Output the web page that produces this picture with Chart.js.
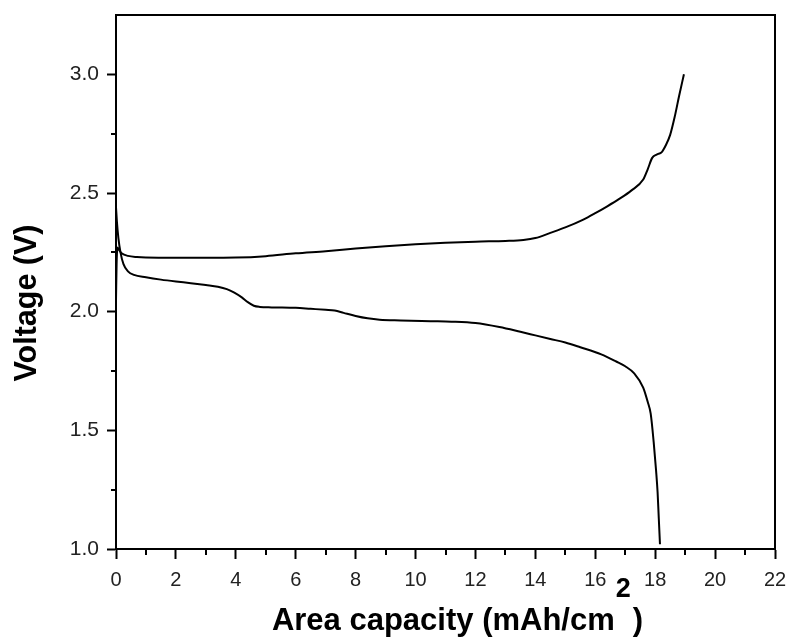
<!DOCTYPE html>
<html>
<head>
<meta charset="utf-8">
<script src="https://cdn.jsdelivr.net/npm/chart.js@4.4.0/dist/chart.umd.min.js"></script>
<style>
  html, body { margin: 0; padding: 0; background: #fff; }
  #wrap { width: 789px; height: 639px; }
</style>
</head>
<body>
<div id="wrap"><canvas id="chart" width="789" height="639"></canvas></div>
<script>
// Discharge curve (area capacity in mAh/cm2, voltage in V)
const dischargeCap = [0, 0.03, 0.08, 0.15, 0.25, 0.4, 0.6, 1.0, 1.5, 2.0, 2.5, 3.0, 3.4, 3.7, 3.95, 4.2, 4.4, 4.6, 4.8, 5.2, 6.0, 6.5, 7.0, 7.3, 7.6, 8.0, 8.4, 8.8, 9.5, 10.5, 11.2, 12.0, 12.8, 13.5, 14.0, 14.5, 15.0, 15.5, 16.2, 16.7, 17.0, 17.3, 17.6, 17.75, 17.85, 17.95, 18.03, 18.08, 18.12, 18.16];
const dischargeV   = [2.44, 2.38, 2.31, 2.25, 2.2, 2.17, 2.155, 2.145, 2.135, 2.127, 2.12, 2.112, 2.105, 2.095, 2.08, 2.06, 2.04, 2.025, 2.02, 2.018, 2.016, 2.012, 2.008, 2.005, 1.995, 1.982, 1.972, 1.966, 1.963, 1.96, 1.958, 1.952, 1.935, 1.915, 1.9, 1.885, 1.87, 1.85, 1.82, 1.79, 1.77, 1.74, 1.68, 1.62, 1.57, 1.45, 1.33, 1.24, 1.13, 1.02];

// Charge curve
const chargeCap = [0, 0.02, 0.05, 0.1, 0.2, 0.4, 0.7, 1.0, 2.0, 3.0, 4.0, 5.0, 6.0, 7.0, 8.0, 9.0, 10.0, 11.0, 12.0, 13.0, 13.6, 14.0, 14.5, 15.0, 15.6, 16.0, 16.4, 16.8, 17.2, 17.6, 17.75, 17.9, 18.05, 18.22, 18.35, 18.5, 18.65, 18.8, 18.96];
const chargeV   = [2.05, 2.2, 2.27, 2.26, 2.245, 2.235, 2.23, 2.228, 2.227, 2.227, 2.228, 2.234, 2.246, 2.255, 2.266, 2.276, 2.284, 2.29, 2.295, 2.298, 2.302, 2.31, 2.332, 2.355, 2.388, 2.415, 2.444, 2.475, 2.51, 2.557, 2.6, 2.648, 2.662, 2.672, 2.7, 2.745, 2.82, 2.91, 3.0];

// Axis ticks
const xTicks = [0, 2, 4, 6, 8, 10, 12, 14, 16, 18, 20, 22];
const yTicks = [1.0, 1.5, 2.0, 2.5, 3.0];
const xMinorTicks = [1, 3, 5, 7, 9, 11, 13, 15, 17, 19, 21];
const yMinorTicks = [1.25, 1.75, 2.25, 2.75];

const FONT = '"Liberation Sans", Arial, sans-serif';

function toPoints(xs, ys) {
    return xs.map((x, i) => ({ x: x, y: ys[i] }));
}

// Top/right frame lines, minor ticks and axis titles
const framePlugin = {
    id: 'frame',
    afterDraw(chart) {
        const { ctx, chartArea } = chart;
        const xs = chart.scales.x;
        const ys = chart.scales.y;
        ctx.save();
        ctx.strokeStyle = '#000';
        ctx.lineWidth = 2;
        ctx.beginPath();
        ctx.moveTo(chartArea.left - 1, chartArea.top);
        ctx.lineTo(chartArea.right, chartArea.top);
        ctx.lineTo(chartArea.right, chartArea.bottom + 1);
        ctx.stroke();

        // minor ticks
        ctx.beginPath();
        xMinorTicks.forEach(v => {
            const px = Math.round(xs.getPixelForValue(v));
            ctx.moveTo(px, chartArea.bottom);
            ctx.lineTo(px, chartArea.bottom + 6);
        });
        yMinorTicks.forEach(v => {
            const py = Math.round(ys.getPixelForValue(v));
            ctx.moveTo(chartArea.left, py);
            ctx.lineTo(chartArea.left - 5, py);
        });
        ctx.stroke();

        // x axis title with superscript
        ctx.fillStyle = '#000';
        ctx.textAlign = 'left';
        ctx.textBaseline = 'alphabetic';
        const main = 'Area capacity (mAh/cm';
        const sup = '2';
        const tail = ')';
        const mainFont = 'bold 31px ' + FONT;
        const supFont = 'bold 27px ' + FONT;
        ctx.font = mainFont;
        const wMain = ctx.measureText(main).width;
        const wTail = ctx.measureText(tail).width;
        ctx.font = supFont;
        const wSup = ctx.measureText(sup).width;
        const total = wMain + wSup + wTail + 3;
        let x = (chartArea.left + chartArea.right) / 2 + 12 - total / 2;
        const base = 630;
        ctx.font = mainFont;
        ctx.fillText(main, x, base);
        x += wMain + 1;
        ctx.font = supFont;
        ctx.fillText(sup, x, base - 33);
        x += wSup + 2;
        ctx.font = mainFont;
        ctx.fillText(tail, x, base);

        // y axis title
        ctx.font = 'bold 30.5px ' + FONT;
        ctx.translate(36, 303);
        ctx.rotate(-Math.PI / 2);
        ctx.textAlign = 'center';
        ctx.fillText('Voltage (V)', 0, 0);
        ctx.restore();
    }
};

const lineStyle = {
    borderColor: '#000',
    borderWidth: 2,
    pointRadius: 0,
    showLine: true,
    fill: false,
    cubicInterpolationMode: 'monotone'
};

new Chart(document.getElementById('chart'), {
    type: 'scatter',
    data: {
        datasets: [
            Object.assign({ label: 'Discharge', data: toPoints(dischargeCap, dischargeV) }, lineStyle),
            Object.assign({ label: 'Charge', data: toPoints(chargeCap, chargeV) }, lineStyle)
        ]
    },
    options: {
        responsive: false,
        animation: false,
        devicePixelRatio: 1,
        layout: {
            autoPadding: false,
            padding: { left: 0, top: 15, right: 14, bottom: 0 }
        },
        plugins: {
            legend: { display: false },
            tooltip: { enabled: false }
        },
        scales: {
            x: {
                type: 'linear',
                min: 0,
                max: 22,
                afterBuildTicks: scale => { scale.ticks = xTicks.map(v => ({ value: v })); },
                afterFit: scale => {
                    scale.height = 90;
                    scale.paddingLeft = 0;
                    scale.paddingRight = 0;
                },
                grid: {
                    drawOnChartArea: false,
                    drawTicks: true,
                    tickLength: 10,
                    tickWidth: 2,
                    tickColor: '#000'
                },
                border: { display: true, color: '#000', width: 2 },
                ticks: {
                    color: '#222',
                    padding: 9,
                    maxRotation: 0,
                    font: { family: FONT, size: 20 },
                    callback: v => String(v)
                }
            },
            y: {
                type: 'linear',
                min: 1.0,
                max: 3.25,
                afterBuildTicks: scale => { scale.ticks = yTicks.map(v => ({ value: v })); },
                afterFit: scale => {
                    scale.width = 116;
                    scale.paddingTop = 0;
                    scale.paddingBottom = 0;
                },
                grid: {
                    drawOnChartArea: false,
                    drawTicks: true,
                    tickLength: 9,
                    tickWidth: 2,
                    tickColor: '#000'
                },
                border: { display: true, color: '#000', width: 2 },
                ticks: {
                    color: '#222',
                    padding: 8,
                    font: { family: FONT, size: 21 },
                    callback: v => v.toFixed(1)
                }
            }
        }
    },
    plugins: [framePlugin]
});
</script>
</body>
</html>
